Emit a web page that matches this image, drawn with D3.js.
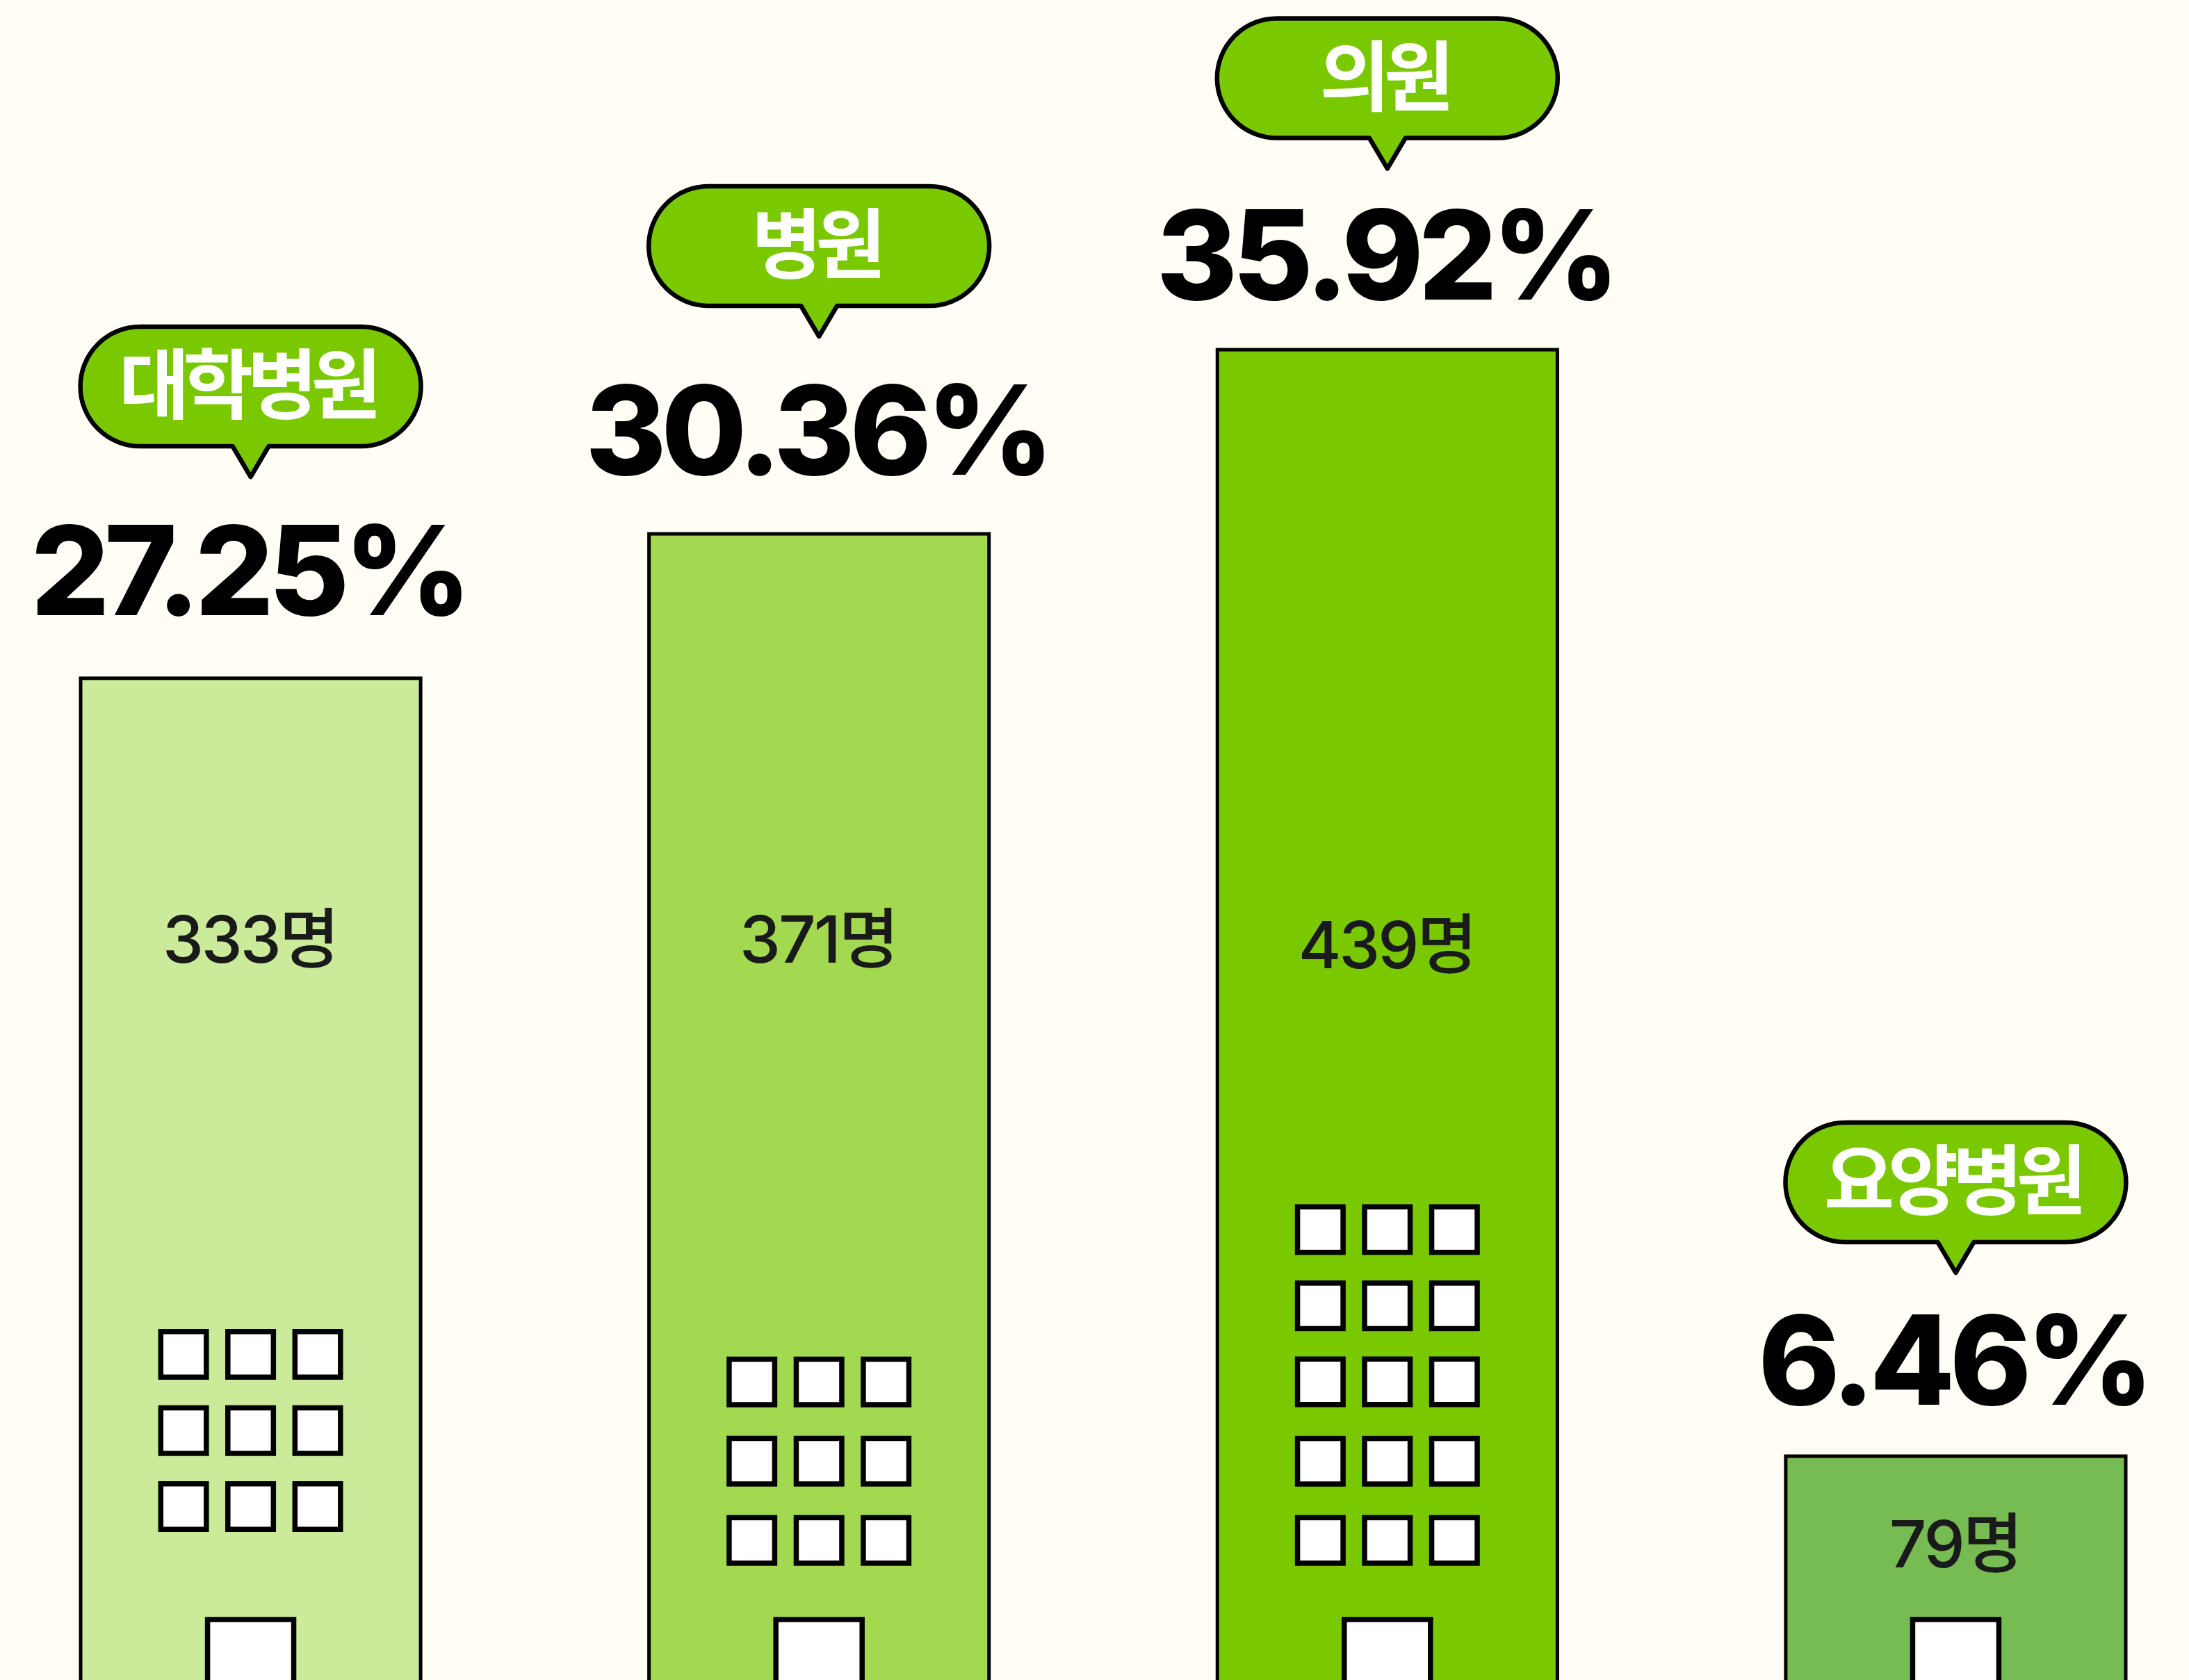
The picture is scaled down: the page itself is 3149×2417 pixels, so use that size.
<!DOCTYPE html>
<html lang="ko">
<head>
<meta charset="utf-8">
<script src="https://cdn.jsdelivr.net/npm/d3@7/dist/d3.min.js"></script>
<style>
html,body{margin:0;padding:0;background:#FFFDF6;overflow:hidden}
svg{display:block}
</style>
</head>
<body>
<svg id="chart" width="3149" height="2417"></svg>
<script>
// Data
const categories = ["대학병원", "병원", "의원", "요양병원"];
const percentLabels = ["27.25%", "30.36%", "35.92%", "6.46%"];
const countLabels = ["333명", "371명", "439명", "79명"];
// Drawn building heights (in head-count units; bar 2 stands taller than its label)
const barHeights = [331.6, 378.5, 438.3, 79.0];
const barColors = ["#CBEA9A", "#A3D950", "#7AC800", "#76BC52"];
// Layout constants
const windowRowTops = [
  [1912, 2021.7, 2131],
  [1951.7, 2065.7, 2179.7],
  [1732.5, 1842.2, 1951.5, 2065.8, 2179.7],
  []
];
const bubbleTops = [470, 268, 26.5, 1615];
const percentBaselines = [885, 683, 431, 2020.5];
const percentOffsets = [-3, -3, -3, -3.5];
const countBaselines = [1385, 1385, 1393, 2255];

const W = 3149, H = 2417, INK = "#000", BG = "#FFFDF6", BUBBLE = "#7AC800";
const KR = "'Inter','Noto Sans CJK KR',sans-serif";
const svg = d3.select("#chart");
svg.append("rect").attr("width", W).attr("height", H).attr("fill", BG);

const x = d3.scaleBand().domain(categories).range([116, 3058]).paddingInner(0.4018).paddingOuter(0);
const y = d3.scaleLinear().domain([0, 439]).range([2445, 500]);
const rows = categories.map((c, i) => ({
  c, i, h: barHeights[i], fill: barColors[i], pct: percentLabels[i], cnt: countLabels[i],
  cx: x(c) + x.bandwidth() / 2
}));

// Buildings
svg.append("g").selectAll("rect").data(rows).join("rect")
  .attr("x", d => x(d.c)).attr("width", x.bandwidth())
  .attr("y", d => y(d.h)).attr("height", d => y(0) - y(d.h))
  .attr("fill", d => d.fill).attr("stroke", INK).attr("stroke-width", 5);

// Windows
const WIN = 65.5, PITCH = 96.5;
const winG = svg.append("g");
rows.forEach(d => {
  const cells = d3.cross(windowRowTops[d.i], [-1, 0, 1]);
  winG.selectAll(null).data(cells).join("rect")
    .attr("x", e => d.cx + e[1] * PITCH - WIN / 2)
    .attr("y", e => e[0] + 3.75)
    .attr("width", WIN).attr("height", WIN)
    .attr("fill", "#fff").attr("stroke", INK).attr("stroke-width", 7.5);
});

// Doors
svg.append("g").selectAll("rect").data(rows).join("rect")
  .attr("x", d => d.cx - 62).attr("width", 124)
  .attr("y", 2330).attr("height", 140)
  .attr("fill", "#fff").attr("stroke", INK).attr("stroke-width", 7.5);

// Speech bubbles
function bubblePath(cx, top) {
  const hw = 245, h = 172, r = 86, tw = 26, tail = 44;
  const p = d3.path();
  p.moveTo(cx - hw + r, top);
  p.lineTo(cx + hw - r, top);
  p.arc(cx + hw - r, top + r, r, -Math.PI / 2, Math.PI / 2);
  p.lineTo(cx + tw, top + h);
  p.lineTo(cx, top + h + tail);
  p.lineTo(cx - tw, top + h);
  p.lineTo(cx - hw + r, top + h);
  p.arc(cx - hw + r, top + r, r, Math.PI / 2, Math.PI * 1.5);
  p.closePath();
  return p.toString();
}
svg.append("g").selectAll("path").data(rows).join("path")
  .attr("d", d => bubblePath(d.cx, bubbleTops[d.i]))
  .attr("fill", BUBBLE).attr("stroke", INK).attr("stroke-width", 6.5).attr("stroke-linejoin", "round");

svg.append("g").selectAll("text").data(rows).join("text")
  .attr("x", d => d.cx - 5).attr("y", d => bubbleTops[d.i] + 124)
  .attr("text-anchor", "middle")
  .attr("font-family", "'Noto Sans CJK KR',sans-serif").attr("font-weight", 700)
  .attr("font-size", 110).attr("letter-spacing", "-9px").attr("fill", "#fff")
  .text(d => d.c);

// Percent labels
svg.append("g").selectAll("text").data(rows).join("text")
  .attr("x", d => d.cx + percentOffsets[d.i]).attr("y", d => percentBaselines[d.i])
  .attr("text-anchor", "middle")
  .attr("font-family", "Inter,sans-serif").attr("font-weight", 800)
  .attr("font-size", 178).attr("letter-spacing", "-7.5px").attr("fill", INK)
  .text(d => d.pct);

// Head-count labels
svg.append("g").selectAll("text").data(rows).join("text")
  .attr("x", d => d.cx - 1).attr("y", d => countBaselines[d.i])
  .attr("text-anchor", "middle")
  .attr("font-family", KR).attr("font-weight", 500)
  .attr("font-size", 94).attr("letter-spacing", "-3px").attr("fill", "#1a1a1a")
  .text(d => d.cnt);
</script>
</body>
</html>
